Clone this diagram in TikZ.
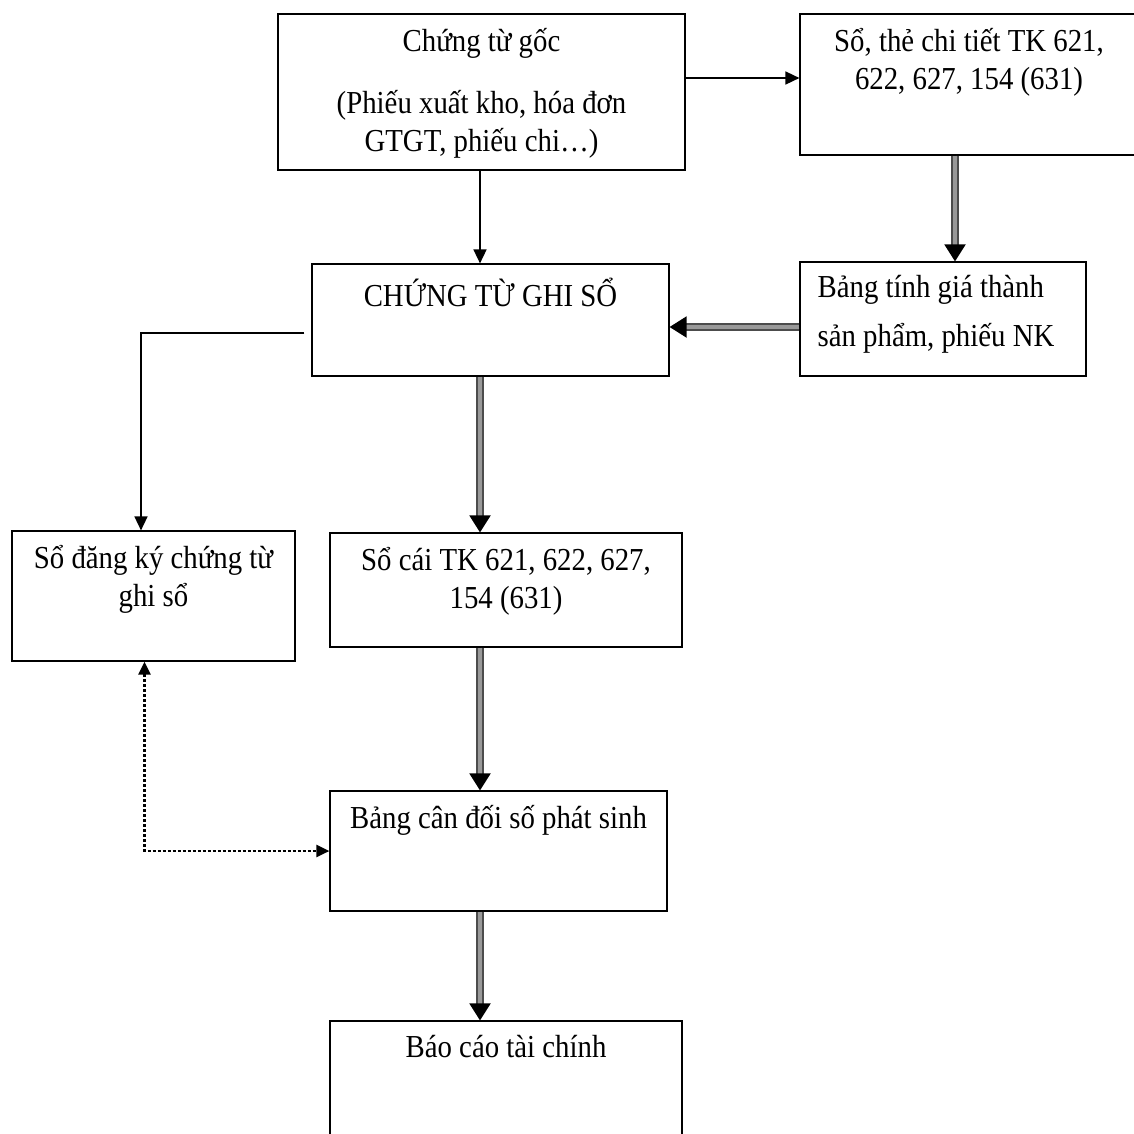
\documentclass[tikz,border=0pt]{standalone}
\usepackage{fontspec}
\setmainfont{Liberation Serif}[FakeStretch=0.9]
\usetikzlibrary{arrows.meta, positioning}

\begin{document}
\begin{tikzpicture}[x=1pt, y=-1pt,
    box/.style={draw, line width=1.2pt, inner sep=0pt},
    txt/.style={inner sep=0pt, anchor=north, align=center, font=\fontsize{32}{38}\selectfont},
    thinarr/.style={-{Triangle[length=14pt, width=13pt]}, line width=1.6pt},
    dblarr/.style={-{Triangle[length=17pt, width=21pt, color=black, fill=black]}, draw=black!70, double=black!40, double distance=4pt, line width=2pt},
    dotarr/.style={{Triangle[length=13pt, width=12pt]}-{Triangle[length=13pt, width=12pt]}, dash pattern=on 3pt off 2pt, line width=2.4pt}]
\clip (0,0) rectangle (1134,1133);
% boxes
\node[box, minimum width=407pt, minimum height=156pt] (ctg) at (481.5,92) {};
\node[box, minimum width=338pt, minimum height=141pt] (sct) at (969,84.5) {};
\node[box, minimum width=357pt, minimum height=112pt] (ctgs) at (490.5,320) {};
\node[box, minimum width=286pt, minimum height=114pt] (bt) at (943,319) {};
\node[box, minimum width=283pt, minimum height=130pt] (sdk) at (153.5,596) {};
\node[box, minimum width=352pt, minimum height=114pt] (sc) at (506,590) {};
\node[box, minimum width=337pt, minimum height=120pt] (bcd) at (498.5,851) {};
\node[box, minimum width=352pt, minimum height=119pt] (bc) at (506,1080.5) {};
% texts
\node[txt] (ctg-t) at ([yshift=-15pt]ctg.north) {Chứng từ gốc\\[24pt](Phiếu xuất kho, hóa đơn\\GTGT, phiếu chi…)};
\node[txt] (sct-t) at ([yshift=-15pt]sct.north) {Sổ, thẻ chi tiết TK 621,\\622, 627, 154 (631)};
\node[txt] (ctgs-t) at ([yshift=-14pt]ctgs.north) {CHỨNG TỪ GHI SỔ};
\node[txt, anchor=north west, align=left] (bt-t) at ([xshift=18pt, yshift=-14pt]bt.north west) {Bảng tính giá thành\\[11pt]sản phẩm, phiếu NK};
\node[txt] (sdk-t) at ([yshift=-15pt]sdk.north) {Sổ đăng ký chứng từ\\ghi sổ};
\node[txt] (sc-t) at ([yshift=-15pt]sc.north) {Sổ cái TK 621, 622, 627,\\154 (631)};
\node[txt] (bcd-t) at ([yshift=-15pt]bcd.north) {Bảng cân đối số phát sinh};
\node[txt] (bc-t) at ([yshift=-15pt]bc.north) {Báo cáo tài chính};
% arrows
\coordinate (spine) at (480,0);
\coordinate (row1) at (0,78);
\coordinate (row2) at (0,327);
\coordinate (rcol) at (955,0);
\draw[thinarr] (ctg.east |- row1) -- (sct.west |- row1);
\draw[thinarr] (ctg.south -| spine) -- (ctgs.north -| spine);
\draw[dblarr] (sct.south -| rcol) -- (bt.north -| rcol);
\draw[dblarr] (bt.west |- row2) -- (ctgs.east |- row2);
\draw[thinarr, shorten <=7pt] ([yshift=-13pt]ctgs.west) -| ([xshift=-12.5pt]sdk.north);
\draw[dblarr] (ctgs.south -| spine) -- (sc.north -| spine);
\draw[dblarr] (sc.south -| spine) -- (bcd.north -| spine);
\draw[dblarr] (bcd.south -| spine) -- (bc.north -| spine);
\draw[dotarr] ([xshift=-9pt]sdk.south) |- (bcd.west);
\end{tikzpicture}
\end{document}
